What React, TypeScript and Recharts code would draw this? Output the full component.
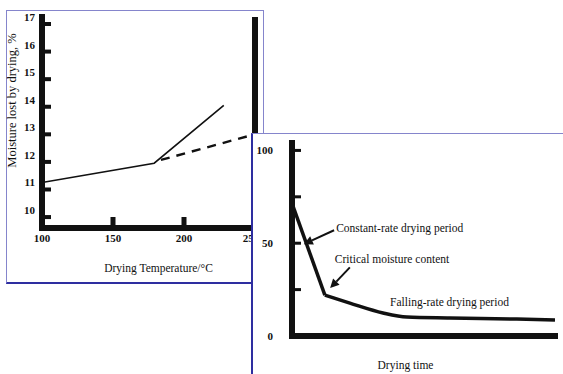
import React from 'react';
import { LineChart, Line, XAxis, YAxis, ReferenceLine, ReferenceDot, Label } from 'recharts';

// left chart: moisture lost vs drying temperature
const tempSolid = [100, 179, 228];
const lossSolid = [11.0, 11.7, 13.8];
const tempDashed = [179, 250];
const lossDashed = [11.75, 12.75];
const tempTicks = [100, 150, 200, 250];
const lossTicks = [10, 11, 12, 13, 14, 15, 16, 17];

// right chart: drying curve
const timeConst = [0, 12.5];
const moistConst = [71.5, 22];
const timeFalling = [12.5, 22, 34.6, 43.7, 60, 85.5, 100];
const moistFalling = [22, 17.7, 12.4, 10.2, 9.7, 9.1, 8.6];
const moistTicks = [0, 25, 50, 75, 100];
const moistLabels = [0, 50, 100];

const noteTexts = ['Constant-rate drying period', 'Critical moisture content', 'Falling-rate drying period'];
const noteTime = [16.8, 16.3, 37.3];
const noteMoist = [58, 41.4, 18.3];
const arrowFrom = [[16, 57], [22, 37]];
const arrowTo = [[4.5, 49.5], [14.5, 25.8]];

const solidData = tempSolid.map((t, i) => ({ t, v: lossSolid[i] }));
const dashedData = tempDashed.map((t, i) => ({ t, v: lossDashed[i] }));
const constData = timeConst.map((t, i) => ({ t, v: moistConst[i] }));
const fallingData = timeFalling.map((t, i) => ({ t, v: moistFalling[i] }));

const font = '"Liberation Serif", "Times New Roman", serif';
const ink = '#111';
const axisStyle = { stroke: ink, strokeWidth: 6, strokeLinecap: 'square' as const };

const TempTick = ({ x, y, payload }: any) => (
  <g>
    {(payload.value === 150 || payload.value === 200) && (
      <rect x={x - 2.5} y={y - 11} width={5} height={9} fill={ink} />
    )}
    <text x={x} y={y + 14} textAnchor="middle" fontFamily={font} fontSize={11} fontWeight="bold" fill={ink}>
      {payload.value}
    </text>
  </g>
);

const LossTick = ({ x, y, payload }: any) => (
  <g>
    <rect x={x} y={y + 5} width={9} height={4} fill={ink} />
    <text x={x - 7} y={y + 4} textAnchor="end" fontFamily={font} fontSize={11} fontWeight="bold" fill={ink}>
      {payload.value}
    </text>
  </g>
);

const MoistTick = ({ x, y, payload }: any) => (
  <g>
    {payload.value !== 0 && <rect x={x} y={y - 1.5} width={9} height={3} fill={ink} />}
    {moistLabels.includes(payload.value) && (
      <text x={x - 19} y={y + 4} textAnchor="end" fontFamily={font} fontSize={11} fontWeight="bold" fill={ink}>
        {payload.value}
      </text>
    )}
  </g>
);

const arrowShape = (p: any) => {
  const { x1, y1, x2, y2 } = p;
  const a = Math.atan2(y2 - y1, x2 - x1);
  const L = 9;
  const W = 4.5;
  const bx = x2 - L * Math.cos(a);
  const by = y2 - L * Math.sin(a);
  const pts = `${x2},${y2} ${bx + W * Math.sin(a)},${by - W * Math.cos(a)} ${bx - W * Math.sin(a)},${by + W * Math.cos(a)}`;
  return (
    <g>
      <line x1={x1} y1={y1} x2={bx} y2={by} stroke={ink} strokeWidth={2} />
      <polygon points={pts} fill={ink} />
    </g>
  );
};

const App: React.FC = () => {
  return (
    <div style={{ position: 'fixed', left: 0, top: 0, width: 563, height: 374, background: '#fff', overflow: 'hidden' }}>
      {/* panel 1 frame */}
      <div
        style={{
          position: 'absolute', left: 6, top: 10, width: 258, height: 274, boxSizing: 'border-box',
          borderTop: '1px solid #8585cc', borderLeft: '1px solid #8585cc', borderRight: '1px solid #8585cc',
          borderBottom: '2px solid #2e2ea0',
        }}
      />
      <div style={{ position: 'absolute', left: 0, top: 0 }}>
        <LineChart width={263} height={283} margin={{ top: 17, right: 8, left: 12, bottom: 15 }}>
          <XAxis
            type="number" dataKey="t" domain={[100, 250]} ticks={tempTicks} tick={TempTick}
            tickLine={false} tickSize={0} tickMargin={0} axisLine={axisStyle} height={40} allowDataOverflow
            label={
              <Label
                content={(p: any) => (
                  <text x={p.viewBox.x + p.viewBox.width / 2 + 10} y={p.viewBox.y + 44} textAnchor="middle"
                    fontFamily={font} fontSize={11.5} fill={ink}>
                    Drying Temperature/°C
                  </text>
                )}
              />
            }
          />
          <YAxis
            type="number" domain={[9.35, 17]} ticks={lossTicks} tick={LossTick}
            tickLine={false} tickSize={0} tickMargin={0} axisLine={axisStyle} width={30} allowDataOverflow
            label={
              <Label
                content={(p: any) => {
                  const cx = p.viewBox.x;
                  const cy = p.viewBox.y + p.viewBox.height / 2 - 22;
                  return (
                    <text x={cx} y={cy} transform={`rotate(-90, ${cx}, ${cy})`} textAnchor="middle"
                      dominantBaseline="central" fontFamily={font} fontSize={12.5} fill={ink}>
                      Moisture lost by drying, %
                    </text>
                  );
                }}
              />
            }
          />
          <ReferenceLine x={250} stroke={ink} strokeWidth={6} />
          <Line data={solidData} dataKey="v" type="linear" stroke={ink} strokeWidth={1.6} dot={false} isAnimationActive={false} />
          <Line data={dashedData} dataKey="v" type="linear" stroke={ink} strokeWidth={2.4} strokeDasharray="9 7" strokeDashoffset={-7} dot={false} isAnimationActive={false} />
        </LineChart>
      </div>

      {/* panel 2 */}
      <div
        style={{
          position: 'absolute', left: 251, top: 133, width: 312, height: 241, boxSizing: 'border-box',
          background: '#fff', borderTop: '1px solid #8585cc', borderLeft: '2px solid #2e2ea0',
        }}
      />
      <div style={{ position: 'absolute', left: 252, top: 134 }}>
        <LineChart width={311} height={240} margin={{ top: 9, right: 8, left: 10, bottom: 8 }}>
          <XAxis
            type="number" dataKey="t" domain={[0, 100]} ticks={[]} tick={false}
            tickLine={false} axisLine={axisStyle} height={30}
            label={
              <Label
                content={(p: any) => (
                  <text x={p.viewBox.x + p.viewBox.width / 2 - 18} y={p.viewBox.y + 33} textAnchor="middle"
                    fontFamily={font} fontSize={11.5} fill={ink}>
                    Drying time
                  </text>
                )}
              />
            }
          />
          <YAxis
            type="number" domain={[0, 104]} ticks={moistTicks} tick={MoistTick}
            tickLine={false} tickSize={0} tickMargin={0} axisLine={axisStyle} width={30}
          />
          <Line data={constData} dataKey="v" type="linear" stroke={ink} strokeWidth={3.5} dot={false} isAnimationActive={false} />
          <Line data={fallingData} dataKey="v" type="monotone" stroke={ink} strokeWidth={3.5} dot={false} isAnimationActive={false} />
          {arrowFrom.map((f, i) => (
            <ReferenceLine
              key={`a${i}`}
              segment={[{ x: f[0], y: f[1] }, { x: arrowTo[i][0], y: arrowTo[i][1] }]}
              shape={arrowShape}
            />
          ))}
          {noteTexts.map((txt, i) => (
            <ReferenceDot
              key={`n${i}`}
              x={noteTime[i]}
              y={noteMoist[i]}
              r={0}
              shape={(p: any) => (
                <text x={p.cx} y={p.cy} dominantBaseline="central" fontFamily={font} fontSize={11.5} fill={ink}>
                  {txt}
                </text>
              )}
            />
          ))}
        </LineChart>
      </div>
    </div>
  );
};

export default App;
